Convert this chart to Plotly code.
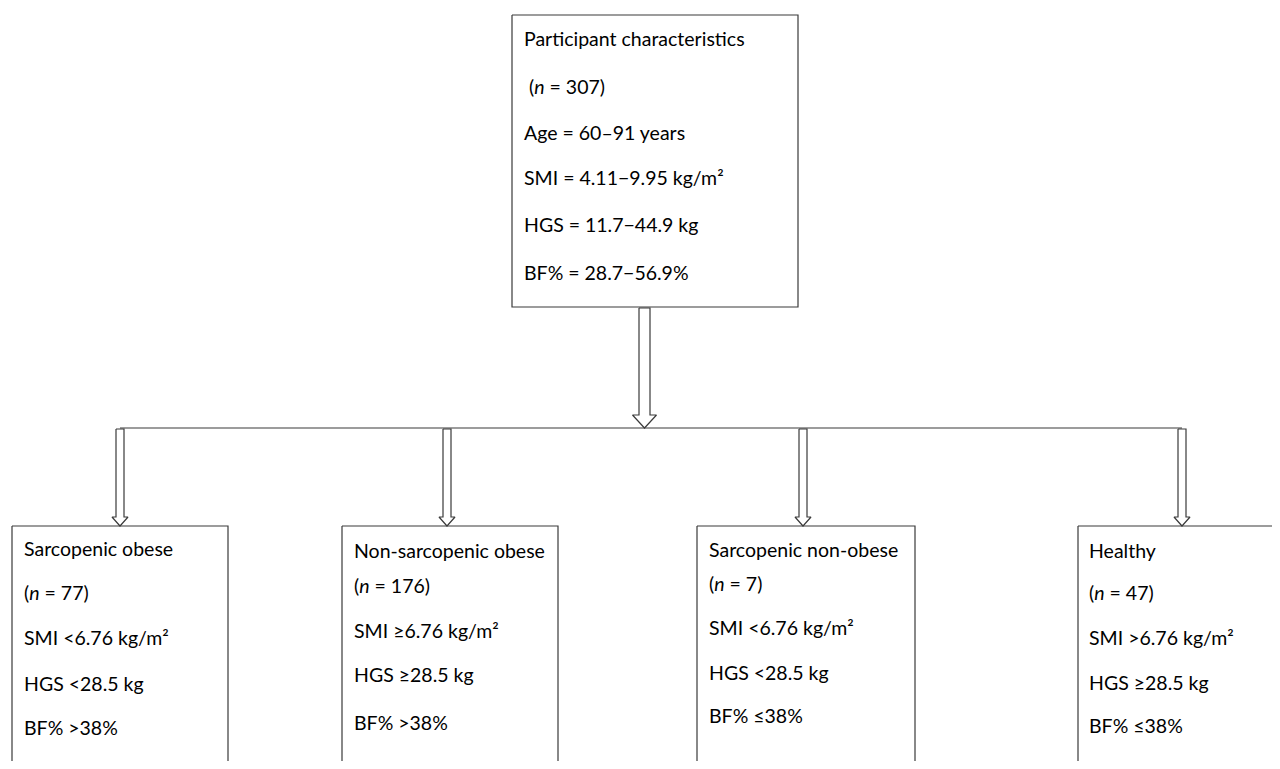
import plotly.graph_objects as go

# ---------------- data (text content) ----------------
top_lines = [
    "Participant characteristics",
    " (<i>n</i> = 307)",
    "Age = 60–91 years",
    "SMI = 4.11−9.95 kg/m²",
    "HGS = 11.7−44.9 kg",
    "BF% = 28.7−56.9%",
]
group_names = ["Sarcopenic obese", "Non-sarcopenic obese", "Sarcopenic non-obese", "Healthy"]
group_n = [77, 176, 7, 47]
group_smi = ["SMI <6.76 kg/m²", "SMI ≥6.76 kg/m²", "SMI <6.76 kg/m²", "SMI >6.76 kg/m²"]
group_hgs = ["HGS <28.5 kg", "HGS ≥28.5 kg", "HGS <28.5 kg", "HGS ≥28.5 kg"]
group_bf = ["BF% >38%", "BF% >38%", "BF% ≤38%", "BF% ≤38%"]

# ---------------- layout geometry ----------------
OFF = 8  # page body margin
W, H = 1264, 753
LINE = "#3a3a3a"
FONT = "Lato"
FS = 19.5

top_box = (512, 798, 15, 307)
top_text_x = 522
top_text_y = [38, 86, 132, 177, 224, 272]

box_x = [(12, 228), (342, 558), (697, 915), (1078, 1295)]
box_top = 526
box_bottom = 790
arrow_x = [120, 447, 803, 1182]
text_x = [22, 352, 707, 1087]
text_y = [
    [548, 592, 637, 683, 727],
    [550, 585, 630, 674, 722],
    [549, 583, 627, 672, 715],
    [550, 592, 637, 682, 725],
]
hline_y = 428

fig = go.Figure()

def rect(x0, x1, y0, y1):
    fig.add_trace(go.Scatter(x=[x0, x1, x1, x0, x0], y=[y0, y0, y1, y1, y0], mode="lines",
                             line=dict(color=LINE, width=1.2), fill="toself", fillcolor="white",
                             hoverinfo="skip", showlegend=False))

def block_arrow(cx, top, head_start, tip, sw, hw):
    xs = [cx - sw, cx + sw, cx + sw, cx + hw, cx, cx - hw, cx - sw, cx - sw]
    ys = [top, top, head_start, head_start, tip, head_start, head_start, top]
    fig.add_trace(go.Scatter(x=xs, y=ys, mode="lines", line=dict(color=LINE, width=1.2),
                             fill="toself", fillcolor="white", hoverinfo="skip", showlegend=False))

# horizontal connector
fig.add_trace(go.Scatter(x=[arrow_x[0], arrow_x[-1]], y=[hline_y, hline_y], mode="lines",
                         line=dict(color=LINE, width=1.2), hoverinfo="skip", showlegend=False))

# top box and main arrow
rect(*top_box)
block_arrow(644.5, 308, 415, 428, 5.5, 12)

# group boxes and arrows
for i in range(4):
    rect(box_x[i][0], box_x[i][1], box_top, box_bottom)
    block_arrow(arrow_x[i], hline_y + 1, 517, 526, 4, 8)

annotations = []
for t, y in zip(top_lines, top_text_y):
    annotations.append(dict(x=top_text_x, y=y, text=t, showarrow=False, xanchor="left",
                            yanchor="middle", font=dict(family=FONT, size=FS, color="#000")))
for i in range(4):
    lines = [group_names[i], f"(<i>n</i> = {group_n[i]})", group_smi[i], group_hgs[i], group_bf[i]]
    for t, y in zip(lines, text_y[i]):
        annotations.append(dict(x=text_x[i], y=y, text=t, showarrow=False, xanchor="left",
                                yanchor="middle", font=dict(family=FONT, size=FS, color="#000")))

fig.update_layout(
    width=W, height=H, margin=dict(l=0, r=0, t=0, b=0),
    paper_bgcolor="white", plot_bgcolor="white",
    xaxis=dict(range=[OFF, OFF + W], visible=False, fixedrange=True),
    yaxis=dict(range=[OFF + H, OFF], visible=False, fixedrange=True),
    annotations=annotations, showlegend=False,
)
fig.write_html("out.html", config={"displayModeBar": False})
